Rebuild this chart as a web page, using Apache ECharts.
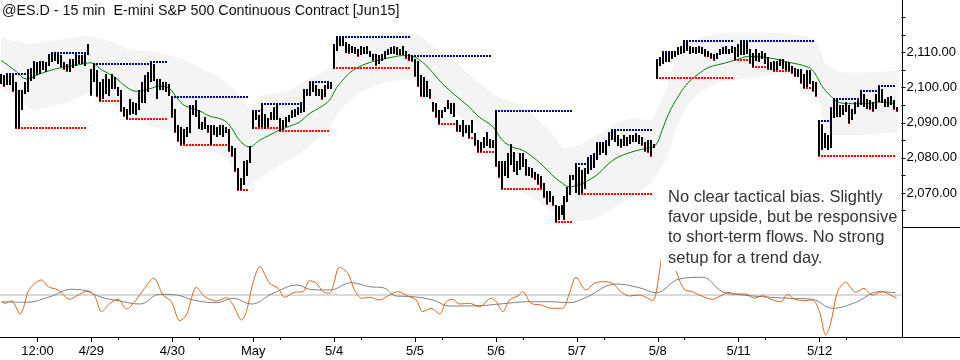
<!DOCTYPE html>
<html><head><meta charset="utf-8">
<script src="https://cdn.jsdelivr.net/npm/echarts@6/dist/echarts.min.js"></script>
<style>html,body{margin:0;padding:0;background:#fff}#c{width:960px;height:360px}</style>
</head><body><div id="c"></div>
<script>
// ---- 15-min bars (index 0..299), high and low ----
const barHigh = [
2104,2103.5,2104.25,2104,2103.5,2101.5,2099.25,2099.25,2101.5,2105.25,
2105.75,2107.75,2107.25,2107.75,2107.75,2107.25,2109.5,2110.25,2110.25,2109.5,
2109.25,2107.25,2106.75,2108.25,2108.25,2109.5,2109.25,2109.25,2109.5,2112.5,
2105.25,2107,2105,2101.5,2102.5,2104,2102.5,2104,2103,2100.25,
2099.25,2094.5,2094,2096.75,2096,2095.5,2099.25,2101.5,2103.5,2104.5,
2107.75,2106.75,2102.5,2102.5,2101.5,2101.5,2101,2097.75,2094,2089.25,
2088.75,2088.25,2088.75,2095,2095,2096.5,2093.5,2090.25,2091.75,2089.25,
2089.25,2089.25,2088.75,2089.25,2089.25,2088.75,2088.25,2083.25,2082.75,2077,
2074.25,2079,2079.25,2083.25,2093.5,2093.5,2092.25,2095.5,2092.5,2091.25,
2093,2094.5,2095.5,2091.25,2090.75,2091.75,2092.25,2093.5,2094,2094.5,
2096,2099.75,2099.75,2102,2101.5,2100.75,2099.75,2099.75,2100.75,2102,
2101.5,2112.5,2114.75,2114.25,2114.75,2113,2112.5,2112,2111.5,2111,
2112,2111.5,2112,2110.5,2109.5,2109.5,2109.25,2109.5,2110.5,2111,
2111.5,2112,2111.5,2111,2112,2110.5,2109.5,2109.25,2108.25,2107.75,
2103.5,2103,2102,2099.75,2096,2095.5,2093.5,2093.5,2094.5,2096.5,
2095.5,2095.5,2090.75,2089.25,2090.75,2089.25,2089.25,2090.75,2087,2085,
2084.5,2086,2087.5,2085.5,2085,2093.5,2079,2079,2079,2081.25,
2084,2081.75,2079,2081.25,2081.25,2079.75,2077.5,2077,2076,2075.5,
2074.75,2072.75,2070.5,2070.5,2069,2066.5,2066.25,2066.5,2069,2071.75,
2075,2075,2078.5,2077.5,2076.5,2077,2080.25,2080.75,2081.25,2084.5,
2084.5,2084.5,2085,2087.5,2088.25,2088,2086.5,2085.5,2086.5,2086,
2086.5,2086.5,2087,2086.5,2086,2084.5,2085,2085,2084,2108.25,
2108.75,2110.5,2110,2110,2110.5,2110.5,2111.5,2112,2113.5,2113,
2112,2111.5,2111.5,2112,2111.5,2111,2110.5,2110,2109.5,2110,
2111,2111.5,2112,2111,2112,2111.5,2112.5,2113.5,2113.5,2113,
2111,2110,2111,2110,2110.5,2110,2108.75,2107.25,2107.75,2107.75,
2108.25,2108.25,2107.25,2107.25,2106.25,2105.75,2105.25,2105.25,2104,2105,
2105,2102,2101.5,2090.75,2089.75,2087,2086.5,2094.5,2097,2096.5,
2095,2095,2096,2095,2094,2096,2096.75,2099.25,2098.25,2096.75,
2096.5,2096,2098.25,2100.75,2099.75,2096.75,2097.25,2097.75,2096.5,2094.5
];
const barLow = [
2101,2100.25,2100.75,2100.75,2098.75,2088.25,2088.25,2093.5,2098.25,2098.75,
2102,2102.5,2103.5,2104,2105,2104.5,2106.25,2107.25,2107.75,2106.75,
2105.75,2105,2104.5,2104.5,2105.75,2106.25,2106.75,2106.75,2106.25,2109.25,
2097.75,2101.5,2097.25,2096,2096.75,2098.25,2097.75,2099.75,2099.75,2097.75,
2093,2091.75,2090.75,2092.25,2092.5,2092.25,2093.5,2095.5,2095.5,2098.75,
2101.5,2102,2096.75,2099.25,2099.25,2098.75,2097.5,2091.25,2087,2084.5,
2083.25,2084,2086,2087,2092.25,2091.75,2088.25,2088,2088.25,2087,
2083.5,2086.5,2086,2086.5,2086,2087,2081.75,2080.25,2076,2070.5,
2070.75,2072.25,2074.75,2078.5,2088.25,2090.75,2088.75,2088.75,2088.25,2088.75,
2090.75,2090.75,2090.75,2087.5,2088,2088.75,2090.25,2091.25,2091.75,2092.25,
2092.75,2093,2097.75,2097.75,2098.75,2097.75,2097.75,2096.5,2097.25,2099.75,
2099.75,2105.25,2110.5,2112,2112,2110,2109.5,2110,2109.5,2108.75,
2109.25,2109.5,2109.5,2108.75,2107.75,2106.25,2106.75,2107.75,2108.25,2109.25,
2109.5,2109.5,2109.25,2109.25,2109.25,2108.25,2107.75,2107.25,2103,2100.25,
2097.25,2097.25,2097.25,2096.75,2093,2091.25,2089.25,2091.25,2093,2094,
2092.5,2091.75,2087.5,2087.5,2086,2087,2085.5,2087,2083.5,2081.5,
2081.75,2082.75,2083.5,2082.75,2082.75,2077.5,2074.25,2070.75,2074.75,2074.25,
2078,2076,2075,2076.5,2077.5,2074.75,2074.75,2074.25,2073.75,2072.25,
2071.25,2068.5,2066.5,2067.5,2066.25,2061.5,2062.25,2063.75,2062.25,2067.5,
2069.5,2073.75,2070,2069.5,2070,2071.25,2075.5,2076.5,2077,2079.25,
2080.75,2081.25,2080.75,2083.25,2085,2084.5,2083.5,2082.75,2083.25,2083.5,
2084,2084.5,2084.5,2084,2083.5,2081.75,2081.25,2080.25,2082.75,2102.5,
2106.25,2106.75,2107.25,2107.25,2108.25,2108.75,2109.25,2109.5,2110,2110.5,
2109.5,2110,2109.5,2110,2109.5,2108.75,2108.75,2108.25,2107.75,2108.25,
2109.25,2109.5,2109.5,2109.5,2110,2107.75,2108.75,2109.25,2109.25,2109.5,
2106.75,2105.75,2107.75,2107.25,2108.25,2106.75,2105,2105,2104.5,2105,
2106.25,2105.25,2105,2104.5,2104,2103,2103,2101,2099.75,2100.25,
2101,2098.75,2097.25,2080.25,2082.25,2082.75,2082.25,2082.75,2091.25,2091.75,
2091.75,2092.25,2093,2089.75,2090.75,2092.5,2094.5,2095,2094.5,2094,
2093.5,2093,2094,2096,2095.5,2094.5,2094.5,2095,2093.5,2093
];
// ---- swing-high (blue) and swing-low (red) levels: [fromBar, toBar, price] ----
const highLevels = [
[2,8,2104.25],[17,28,2110.25],[31,49,2107],[50,55,2107.75],[57,82,2097.75],[84,86,2093.5],
[87,99,2095.5],[103,109,2102],[112,136,2114.75],[137,163,2109.25],[165,190,2093.5],
[192,196,2078.5],[199,201,2084.5],[204,217,2088.25],[221,227,2110.5],[228,244,2113.5],
[247,271,2113.5],[273,276,2090.75],[278,286,2097],[287,292,2099.25],[293,298,2100.75]
];
const lowLevels = [
[5,28,2088.25],[33,39,2096],[42,55,2090.75],[60,75,2083.25],[79,82,2070.5],[84,92,2088.25],
[93,109,2087.5],[111,136,2105.25],[140,143,2097.25],[146,151,2089.25],[156,157,2085.5],
[159,164,2081.5],[167,180,2070.75],[185,190,2061.5],[193,217,2069.5],[219,244,2102.5],
[245,249,2107.75],[251,256,2105.75],[258,264,2104.5],[265,267,2103],[268,271,2099.75],
[273,298,2080.25]
];
// ---- moving average [bar, price] ----
const movingAvg = [
[0,2107.75],[4.5,2104.9],[8.4,2102.5],[12.8,2103.95],[19.5,2105.65],[26.2,2106.6],[29.5,2107.1],
[33.8,2104.9],[37.8,2103],[41.7,2100.2],[45,2099],[49.5,2099.7],[52.8,2100.45],[56.2,2099.7],
[58.4,2097.3],[60.6,2095.25],[62.8,2094.3],[66.2,2093.35],[69.5,2091.9],[72.8,2091.2],[75.1,2090.2],
[77.3,2087.9],[79.5,2085],[82.8,2083.1],[86.2,2085],[89.5,2086.45],[92.8,2087.9],[96.2,2089],
[99.5,2090.2],[102.8,2092.6],[106.2,2094.3],[109.5,2096.4],[111.7,2099.7],[113.9,2102.1],
[117.3,2104.9],[121.7,2106.8],[126.2,2107.9],[130.6,2108.7],[133.9,2109.15],[137.3,2108.9],
[140.6,2107.25],[143.9,2104.4],[147.3,2101.1],[152.8,2096.9],[156.2,2094.5],[159.5,2091.65],
[163.9,2089],[167.3,2085],[170.6,2083.1],[173.9,2082.2],[177.3,2080.3],[180.6,2077.9],
[183.9,2075.1],[187.3,2072.75],[189.5,2071.8],[192.8,2072.3],[196.2,2073.7],[199.5,2075.6],
[202.8,2078.4],[206.2,2080.3],[210.6,2081.7],[215.1,2082.7],[218.4,2083.6],[220.6,2087.9],
[222.8,2092.6],[226.2,2097.8],[229.5,2101.6],[232.8,2103.95],[236.2,2105.8],[240.6,2106.8],
[245.1,2107.9],[249.5,2108.9],[256.2,2108.5],[262.8,2107.25],[269.5,2105.8],[271.7,2103.95],
[273.9,2100.6],[276.7,2097.8],[279.5,2095.9],[282.8,2095.45],[288.4,2095.45],[293.9,2095.9],
[298.4,2095.45]
];
// ---- envelope band [bar, price] ----
const bandUpper = [
[0,2114.25],[9.5,2112.25],[19.5,2113.7],[28.8,2114.8],[36,2113.4],[43,2110.6],[49.5,2110.6],
[60.5,2108.3],[66,2105.75],[72,2103.5],[77,2100.1],[83,2094.1],[87,2097.8],[96,2099.2],
[103,2102.6],[109.5,2105.5],[114.5,2112],[123,2114.5],[133,2115.7],[139.5,2114.8],[146,2110.6],
[153,2106.3],[160.5,2100.6],[166,2097.2],[172,2095.5],[177,2092.7],[183,2087.9],[187.5,2082.8],
[190.5,2083.05],[195,2084.5],[199.5,2086.7],[205,2089.85],[210.5,2091.3],[217,2090.7],
[219.5,2094.4],[222,2100.1],[225,2107.7],[228.5,2112.55],[233,2114.25],[238.5,2115.4],
[244,2115.7],[256,2115.7],[266,2115.1],[272,2114],[275,2106.9],[280.5,2104.3],[288.5,2104.3],
[299.5,2104.9]
];
const bandLower = [
[0,2099.8],[10.5,2093.55],[22,2095.8],[29.5,2098.65],[38.5,2094.4],[49.5,2089],[56,2087.9],
[60.5,2085],[66,2083.3],[72,2081.35],[75,2079.9],[78.5,2075.7],[81.8,2071.7],[84,2072.8],
[87,2074.5],[91.8,2077.4],[96,2079.4],[99.5,2081.1],[105,2085],[109.5,2088.7],[113.8,2094.4],
[119.5,2098.65],[127,2101.2],[136,2102.6],[139.5,2101.2],[143.8,2096.9],[149.5,2094.1],
[155,2090.7],[160.5,2087.9],[163.8,2086.45],[165,2077.9],[166,2073.7],[172,2071.7],
[178.5,2068],[183,2065.2],[186.5,2062.3],[192,2061.8],[196,2062.3],[199.5,2063.2],[205,2066],
[210.5,2068.9],[217,2072.8],[222,2079.4],[225,2087.9],[228.5,2094.4],[233,2098.65],
[238.5,2101.2],[244,2102.05],[249.5,2102.9],[256,2103.5],[264,2104.05],[270.5,2102.6],
[273,2096.4],[275,2089.3],[277,2086.45],[286,2086.45],[299.5,2087.3]
];
// ---- oscillator panel [bar, value] ----
const oscFast = [
[0,-0.67],[1.2,-0.83],[3.4,-0.57],[4.5,-1],[6.2,-1.9],[7.3,-1.33],[8.9,0.33],[11.2,1.17],
[13.4,1.5],[15.6,0.83],[18.9,0.5],[22.8,-0.43],[25.6,0],[28.9,0.43],[31.2,-0.17],[33.4,-1.67],
[36.2,-0.83],[38.9,-0.43],[41.7,-1.4],[44.5,-0.67],[47.3,0.5],[50.8,1.67],[53.9,0],[56.7,-0.67],
[59.5,-2.57],[61.7,-2],[65.1,0.77],[67.8,-0.17],[71.7,-0.6],[75.1,-0.27],[77.3,-1],[80.1,-2.5],
[81.7,-1.67],[83.9,1.17],[86.2,2.83],[89.5,1.17],[92.3,0.67],[94.5,-0.23],[97.8,0.27],
[100.6,0.33],[102.8,1.43],[105.1,1.17],[107.3,0.33],[109.5,0.17],[110.6,0.83],[112.8,2.77],
[115.6,2.17],[117.8,0.5],[120.1,-0.33],[122.8,-0.23],[126.2,-0.5],[128.9,-0.1],[132.3,0.33],
[135.6,-0.1],[138.4,-0.5],[140.6,-1.67],[143.4,-1.33],[146.2,-1.9],[148.4,-0.67],[150.6,-0.43],
[152.8,-0.9],[156.2,-0.83],[159.5,-1.17],[163.4,-0.33],[165.1,-0.67],[167.3,-1.67],[169.5,-0.5],
[172.3,-0.1],[173.9,0.33],[176.7,-0.83],[180.1,-1],[183.4,-1.33],[185.6,-1.33],[187.3,-1.33],
[189.5,0.17],[191.7,1.77],[195.1,0.5],[197.8,1.17],[200.6,1.33],[203.9,1.17],[206.7,0.33],
[209.5,-0.1],[212.8,0],[215.1,-0.23],[217.3,-0.57],[218.4,0.17],[219.6,2.4],[221.5,5.2],
[223.5,4],[225.6,2],[227.8,0.57],[230.6,0.33],[232.8,0],[237.3,-0.43],[239.5,-0.17],[242.8,0.27],
[245.1,0.1],[248.4,0.1],[251.2,-0.33],[253.9,-0.07],[257.3,-0.5],[260.1,-0.67],[262.3,0.07],
[264.5,-0.4],[267.8,-0.57],[270.6,-0.5],[272.8,-1.5],[275.1,-4],[276.7,-2.83],[279,0.33],
[281.7,1.27],[285.1,0.27],[287.8,0.67],[290.6,0],[293.9,0.33],[296.7,0],[298.7,-0.33]
];
const oscSlow = [
[0,-0.67],[8.4,-0.73],[16.2,-0.17],[23.4,0.57],[28.4,0.4],[32.8,-0.17],[39.5,-0.6],[46.2,-0.9],
[52.8,0.07],[58.4,0],[63.9,-0.5],[71.7,-0.77],[77.3,-0.33],[83.4,-0.9],[90.6,0.17],[98.9,1],
[102.8,0.57],[109.5,0.5],[116.7,1.23],[122.8,0.83],[127.3,0.73],[131.7,-0.1],[137.3,-0.17],
[143.9,-0.5],[149.5,-1.1],[159.5,-1.07],[166.2,-0.9],[176.2,-0.67],[182.8,-0.67],[189.5,-0.77],
[195.1,-0.23],[205.1,1.1],[212.8,0.73],[218.4,0.23],[226.2,1.6],[233.9,1.77],[240.6,0.33],
[247.3,0],[253.9,-0.17],[262.8,-0.33],[270.6,-0.43],[277.3,-1.33],[285.1,-0.73],[292.8,0.33],
[298.4,0.23]
];
const oscZero = [[-0.5,0],[300.5,0]];
// ---- axis ticks / labels ----
const dateTickBars = [12,30,57,84,111,138,165,192,219,246,273];
const dateTickLabels = ['12:00','4/29','4/30','May','5/4','5/5','5/6','5/7','5/8','5/11','5/12'];
const noonTickBars = [39,66,93,120,147,174,201,228,255,282];
const priceTicks = [2065,2070,2075,2080,2085,2090,2095,2100,2105,2110,2115,2120];
const priceLabels = [2070,2080,2090,2100,2110];
const titleText = '@ES.D - 15 min  E-mini S&P 500 Continuous Contract [Jun15]';
const noteLines = ['No clear tactical bias. Slightly','favor upside, but be responsive','to short-term flows. No strong','setup for a trend day.'];

const LOOK = 4;
const barData = barHigh.map((h, i) => {
  let up = 0, dn = 0;
  if (i > 0) {
    const s = Math.max(0, i - LOOK);
    const pH = Math.max(...barHigh.slice(s, i));
    const pL = Math.min(...barLow.slice(s, i));
    up = h > pH ? 1 : 0; dn = barLow[i] < pL ? 1 : 0;
  }
  return [i, h, barLow[i], up, dn];
});

function fmtPrice(v){ const s = String(v); return s.slice(0,1)+','+s.slice(1)+'.00'; }

const chart = echarts.init(document.getElementById('c'), null, {renderer:'canvas'});
const FONT = '"Liberation Sans", Arial, sans-serif';
const xBase = {type:'value', min:-0.5, max:300.5, splitLine:{show:false}};
chart.setOption({
  animation:false,
  backgroundColor:'#fff',
  grid:[{left:0, width:902, top:-1, height:229}, {left:0, width:902, top:227, height:110}],
  xAxis:[
    Object.assign({}, xBase, {gridIndex:0, show:false}),
    Object.assign({}, xBase, {gridIndex:1, position:'bottom', axisLine:{show:false, onZero:false},
      axisTick:{show:true, customValues:dateTickBars, length:5, lineStyle:{color:'#000'}},
      axisLabel:{show:true, customValues:dateTickBars, margin:8, color:'#000', fontSize:13, fontFamily:FONT,
        formatter:(v)=>{const k=dateTickBars.indexOf(Math.round(v)); return k>=0?dateTickLabels[k]:'';}}}),
    Object.assign({}, xBase, {gridIndex:1, position:'bottom', axisLine:{show:false, onZero:false},
      axisTick:{show:true, customValues:noonTickBars, length:3, lineStyle:{color:'#000'}},
      axisLabel:{show:false}})
  ],
  yAxis:[
    {type:'value', gridIndex:0, position:'right', min:2060, max:2125, splitLine:{show:false},
      axisLine:{show:false, onZero:false},
      axisTick:{show:true, customValues:priceTicks, length:4, lineStyle:{color:'#000'}},
      axisLabel:{show:true, customValues:priceLabels, margin:5, color:'#000', fontSize:13, fontFamily:FONT, formatter:fmtPrice}},
    {type:'value', gridIndex:1, min:-4.2, max:6.8, show:false, axisLine:{onZero:false}}
  ],
  series:[
    {type:'custom', name:'band', xAxisIndex:0, yAxisIndex:0, silent:true, z:1, data:[[150,2090]],
      renderItem:(params, api)=>{
        const pts = bandUpper.map(p=>api.coord(p)).concat(bandLower.slice().reverse().map(p=>api.coord(p)));
        return {type:'polygon', shape:{points:pts}, style:{fill:'#f4f4f4', stroke:null}};
      }},
    {type:'line', name:'MA', xAxisIndex:0, yAxisIndex:0, data:movingAvg, smooth:0.4, symbol:'none', z:3,
      lineStyle:{color:'#008000', width:1}},
    {type:'custom', name:'highs', xAxisIndex:0, yAxisIndex:0, z:4, data:highLevels,
      renderItem:(params, api)=>{
        const s = api.coord([api.value(0), api.value(2)]); const e = api.coord([api.value(1), api.value(2)]);
        const y = Math.round(s[1]) + 1;
        return {type:'line', shape:{x1:Math.round(s[0])-1, y1:y, x2:Math.round(e[0])+2, y2:y},
          style:{stroke:'#00008b', lineWidth:2, lineDash:[2,1]}};
      }},
    {type:'custom', name:'lows', xAxisIndex:0, yAxisIndex:0, z:4, data:lowLevels,
      renderItem:(params, api)=>{
        const s = api.coord([api.value(0), api.value(2)]); const e = api.coord([api.value(1), api.value(2)]);
        const y = Math.round(s[1]) - 1;
        return {type:'line', shape:{x1:Math.round(s[0])-1, y1:y, x2:Math.round(e[0])+2, y2:y},
          style:{stroke:'#ff0000', lineWidth:2, lineDash:[2,1]}};
      }},
    {type:'custom', name:'bars', xAxisIndex:0, yAxisIndex:0, z:5, data:barData, encode:{x:0, y:[1,2]},
      renderItem:(params, api)=>{
        const i = api.value(0);
        const ph = api.coord([i, api.value(1)]); const pl = api.coord([i, api.value(2)]);
        const x = Math.round(ph[0]) - 1; const yt = Math.round(ph[1]); const yb = Math.round(pl[1]);
        const ch = [{type:'rect', shape:{x:x, y:yt, width:2, height:Math.max(1, yb-yt)}, style:{fill:'#000'}}];
        if (api.value(3)) ch.push({type:'rect', shape:{x:x, y:yt, width:2, height:1}, style:{fill:'#0000a0'}});
        if (api.value(4)) ch.push({type:'rect', shape:{x:x, y:yb-1, width:2, height:1}, style:{fill:'#ff0000'}});
        return {type:'group', children:ch};
      }},
    {type:'line', name:'zero', xAxisIndex:1, yAxisIndex:1, data:oscZero, symbol:'none', z:2,
      lineStyle:{color:'#b4b4b4', width:1}},
    {type:'line', name:'slow', xAxisIndex:1, yAxisIndex:1, data:oscSlow, smooth:0.4, symbol:'none', z:3,
      lineStyle:{color:'#808080', width:1}},
    {type:'line', name:'fast', xAxisIndex:1, yAxisIndex:1, data:oscFast, smooth:0.3, symbol:'none', z:4,
      lineStyle:{color:'#d2691e', width:1}}
  ],
  graphic:[
    {type:'line', z:50, shape:{x1:902.5, y1:0, x2:902.5, y2:337}, style:{stroke:'#000', lineWidth:1}},
    {type:'line', z:50, shape:{x1:902, y1:227.5, x2:960, y2:227.5}, style:{stroke:'#000', lineWidth:1}},
    {type:'line', z:50, shape:{x1:0, y1:337.5, x2:960, y2:337.5}, style:{stroke:'#000', lineWidth:1}},
    {type:'text', z:50, x:2, y:11, style:{text:titleText, fill:'#111', font:'14.3px '+FONT, textVerticalAlign:'middle'}},
    {type:'rect', z:60, shape:{x:661, y:186, width:239, height:85}, style:{fill:'#fff'}},
    {type:'group', z:61, children: noteLines.map((t,k)=>({type:'text', z:61, x:668, y:197.5+20.2*k,
      style:{text:t, fill:'#333', font:'16.5px '+FONT, textVerticalAlign:'middle'}}))}
  ]
});
</script></body></html>
